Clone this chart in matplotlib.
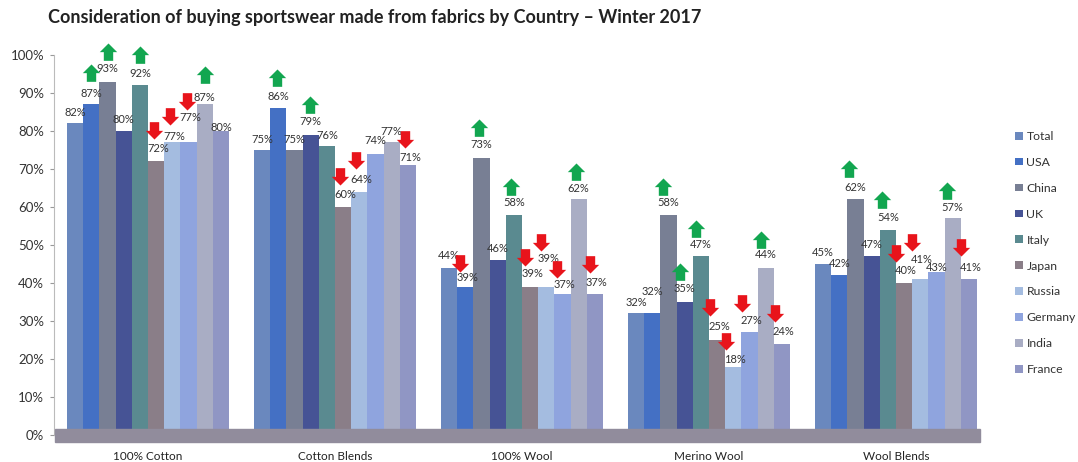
import matplotlib
matplotlib.use("Agg")
import matplotlib.pyplot as plt
import matplotlib.transforms as mtransforms
import numpy as np
from matplotlib.path import Path
from matplotlib.patches import Rectangle

plt.rcParams['font.family'] = ['Lato', 'DejaVu Sans']

categories = ["100% Cotton", "Cotton Blends", "100% Wool", "Merino Wool", "Wool Blends"]
countries = ["Total", "USA", "China", "UK", "Italy", "Japan", "Russia", "Germany", "India", "France"]

# values per country across the five fabric categories (%)
total   = [82, 75, 44, 32, 45]
usa     = [87, 86, 39, 32, 42]
china   = [93, 75, 73, 58, 62]
uk      = [80, 79, 46, 35, 47]
italy   = [92, 76, 58, 47, 54]
japan   = [72, 60, 39, 25, 40]
russia  = [77, 64, 39, 18, 41]
germany = [77, 74, 37, 27, 43]
india   = [87, 77, 62, 44, 57]
france  = [80, 71, 37, 24, 41]
series = [total, usa, china, uk, italy, japan, russia, germany, india, france]

# significance arrows: 1 = up (green), -1 = down (red), 0 = none
arr_total   = [0, 0, 0, 0, 0]
arr_usa     = [1, 1, -1, 0, 0]
arr_china   = [1, 0, 1, 1, 1]
arr_uk      = [0, 1, 0, 1, 0]
arr_italy   = [1, 0, 1, 1, 1]
arr_japan   = [-1, -1, -1, -1, -1]
arr_russia  = [-1, -1, -1, -1, -1]
arr_germany = [-1, 0, -1, -1, 0]
arr_india   = [1, 0, 1, 1, 1]
arr_france  = [0, -1, -1, -1, -1]
arrows = [arr_total, arr_usa, arr_china, arr_uk, arr_italy, arr_japan,
          arr_russia, arr_germany, arr_india, arr_france]

# label placement (pixels above bar top) - layout only, mimicking staggered labels
lab_total   = [11, 11, 12, 11, 12]
lab_usa     = [11, 12, 9, 22, 12]
lab_china   = [13, 11, 13, 12, 12]
lab_uk      = [12, 13, 12, 13, 12]
lab_italy   = [12, 11, 12, 12, 12]
lab_japan   = [13, 12, 13, 13, 13]
lab_russia  = [6, 12, 28, 7, 20]
lab_germany = [25, 13, 10, 12, 4]
lab_india   = [7, 11, 11, 13, 11]
lab_france  = [4, 8, 12, 12, 12]
label_off = [lab_total, lab_usa, lab_china, lab_uk, lab_italy, lab_japan,
             lab_russia, lab_germany, lab_india, lab_france]
# arrow centre (pixels above bar top)
aro_usa     = [31, 30, 24, 0, 0]
aro_china   = [30, 0, 30, 28, 30]
aro_uk      = [0, 30, 0, 30, 0]
aro_italy   = [30, 0, 28, 27, 30]
aro_japan   = [31, 31, 30, 33, 30]
aro_russia  = [26, 32, 45, 26, 37]
aro_germany = [41, 0, 25, 29, 0]
aro_india   = [29, 0, 27, 28, 27]
aro_france  = [0, 26, 30, 31, 32]
arrow_off = [[0] * 5, aro_usa, aro_china, aro_uk, aro_italy, aro_japan,
             aro_russia, aro_germany, aro_india, aro_france]
# horizontal drift of the arrows per category (pixels)
arrow_dx = [0, -1, -3, -5, -6]

colors = ["#6A88BE", "#4470C4", "#787F94", "#465395", "#5A8A90",
          "#8A7E88", "#A4BCE0", "#8FA4DE", "#A9ADC4", "#9096C4"]

yticks = [0, 10, 20, 30, 40, 50, 60, 70, 80, 90, 100]

fig = plt.figure(figsize=(10.78, 4.62), dpi=100)
ax = fig.add_axes([54/1078, 1 - 442.6/462, 936/1078, (442.6 - 55)/462])

n = len(series)
group_w = 0.866
bw = group_w / n
x = np.arange(len(categories))

# arrow marker shapes
up_verts = [(-0.5, 0.02), (0.0, 0.52), (0.5, 0.02), (0.27, 0.02), (0.27, -0.48),
            (-0.27, -0.48), (-0.27, 0.02), (-0.5, 0.02)]
up_path = Path(up_verts, closed=True)
down_path = Path([(vx, -vy) for vx, vy in up_verts], closed=True)

PX = 72 / 100.0  # pixels -> points

for i, (vals, col, arr) in enumerate(zip(series, colors, arrows)):
    xs = x - group_w / 2 + bw * (i + 0.5)
    ax.bar(xs, vals, width=bw, color=col, zorder=2, label=countries[i])
    for j, (xi, v, a) in enumerate(zip(xs, vals, arr)):
        ldx = 2 if a < 0 else 0
        ax.annotate(f"{v}%", (xi, v), xytext=(ldx * PX, label_off[i][j] * PX),
                    textcoords="offset points",
                    ha="center", va="center", fontsize=8, color="#333333", zorder=5,
                    annotation_clip=False)
        if a != 0:
            adx = arrow_dx[j] - (2 if a < 0 else 0)
            tr = ax.transData + mtransforms.ScaledTranslation(adx / 100.0, arrow_off[i][j] / 100.0,
                                                               fig.dpi_scale_trans)
            ax.plot([xi], [v], linestyle="none", marker=up_path if a > 0 else down_path,
                    markersize=13, color="#12A650" if a > 0 else "#E8141B",
                    markeredgewidth=0, zorder=6, transform=tr, clip_on=False)

# floor band
ax.add_patch(Rectangle((-0.5, -1.8), 4.95, 3.4, color="#918C9C", zorder=3, clip_on=False))

ax.set_xlim(-0.503, 4.503)
ax.set_ylim(-2, 100)
ax.set_yticks(yticks)
ax.set_yticklabels([f"{t}%" for t in yticks], fontsize=9.5, color="#333333")
ax.set_xticks(x)
ax.set_xticklabels(categories, fontsize=8.5, color="#222222")
ax.tick_params(axis="x", length=0, pad=6)
ax.tick_params(axis="y", length=3, color="#999999", pad=4)
for s in ["top", "right", "bottom"]:
    ax.spines[s].set_visible(False)
ax.spines["left"].set_color("#BBBBBB")
ax.spines["left"].set_bounds(0, 100)

leg = ax.legend(loc="upper left", bbox_to_anchor=(1.018, 0.826), frameon=False,
                fontsize=8.8, handlelength=0.6, handleheight=0.6, labelspacing=1.22,
                handletextpad=0.3, borderaxespad=0.3)
for t in leg.get_texts():
    t.set_color("#333333")

fig.text(48/1078, 1 - 18/462, "Consideration of buying sportswear made from fabrics by Country \u2013 Winter 2017",
         fontsize=13, fontweight="bold", color="#222222", ha="left", va="center")

fig.savefig("out.png", dpi=100)
